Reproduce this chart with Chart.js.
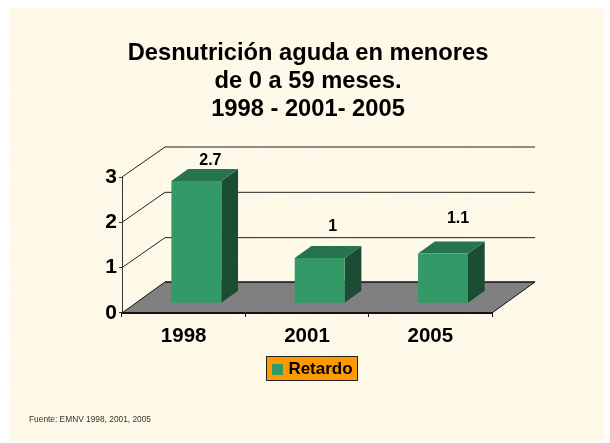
<!DOCTYPE html>
<html>
<head>
<meta charset="utf-8">
<script src="https://cdn.jsdelivr.net/npm/chart.js@4"></script>
<style>
html,body{margin:0;padding:0;background:#fff;overflow:hidden}
#wrap{position:relative;width:610px;height:443px}
#paper{position:absolute;left:10px;top:8px;width:594px;height:433px;background:#FFF9E8;overflow:hidden}
#paper svg{position:absolute;left:0;top:0}
canvas{position:absolute;left:0;top:0}
</style>
</head>
<body>
<div id="wrap">
<div id="paper"><svg width="594" height="433"><filter id="f" x="0" y="0" width="100%" height="100%"><feTurbulence type="fractalNoise" baseFrequency="0.04" numOctaves="3" seed="7"/><feColorMatrix type="matrix" values="0 0 0 0 0.984  0 0 0 0 0.937  0 0 0 0 0.80  2.6 0 0 0 -0.75"/></filter><rect width="594" height="433" filter="url(#f)"/></svg></div>
<canvas id="c" width="610" height="443"></canvas>
</div>
<script>
const titleLines = ['Desnutrición aguda en menores', 'de 0 a 59 meses.', '1998 - 2001- 2005'];
const categories = ['1998', '2001', '2005'];
const seriesName = 'Retardo';
const retardo = [2.7, 1, 1.1];
const sourceNote = 'Fuente: EMNV 1998, 2001, 2005';
const FONT = '"Liberation Sans", Arial, sans-serif';

const wallDepth = {x: 43, y: 31, gridY: 30};
const barShift = {x: 12.7, y: 9.7};
const barDepth = {x: 16.7, y: 12};
const labelLift = [{x: 14, y: 20}, {x: 13, y: 31}, {x: 15, y: 35}];
const plate = {x: 266.5, y: 356.5, w: 91, h: 24};
const BAR_COLOR = '#339966';

const swatch = document.createElement('canvas');
swatch.width = 11; swatch.height = 11;
const swatchCtx = swatch.getContext('2d');
swatchCtx.fillStyle = BAR_COLOR;
swatchCtx.fillRect(0, 0, 11, 11);

const scene3d = {
  id: 'scene3d',
  afterLayout(chart) {
    chart.titleBlock.left = 0; chart.titleBlock.right = 616;
    chart.boxes.forEach(b => {
      if (b !== chart.titleBlock && b.options && b.options.text && b.options.position === 'bottom') {
        b.left = 29; b.right = 400;
      }
    });
    chart.legend.left = 267.75; chart.legend.right = 359.75;
    chart.legend.top = 361;
  },
  beforeDraw(chart) {
    const {ctx, scales: {x, y}} = chart;
    const L = x.left, R = x.right, B = y.getPixelForValue(0);
    const d = wallDepth;
    ctx.save();
    ctx.fillStyle = '#808080';
    ctx.beginPath();
    ctx.moveTo(L, B); ctx.lineTo(R, B); ctx.lineTo(R + d.x, B - d.y); ctx.lineTo(L + d.x, B - d.y);
    ctx.closePath(); ctx.fill();
    ctx.strokeStyle = '#111'; ctx.lineWidth = 1;
    ctx.beginPath();
    ctx.moveTo(L, B); ctx.lineTo(L + d.x, B - d.y);
    ctx.moveTo(R, B); ctx.lineTo(R + d.x, B - d.y);
    ctx.stroke();
    ctx.lineWidth = 1.5;
    ctx.beginPath(); ctx.moveTo(L + d.x, B - d.y); ctx.lineTo(R + d.x, B - d.y); ctx.stroke();
    ctx.lineWidth = 1; ctx.strokeStyle = '#222';
    y.ticks.forEach(t => {
      if (t.value === 0) return;
      const py = y.getPixelForValue(t.value);
      ctx.beginPath();
      ctx.moveTo(L, py); ctx.lineTo(L + d.x, py - d.gridY); ctx.lineTo(R + d.x, py - d.gridY);
      ctx.stroke();
    });
    ctx.fillStyle = '#FF9900'; ctx.strokeStyle = '#222'; ctx.lineWidth = 1;
    ctx.fillRect(plate.x, plate.y, plate.w, plate.h);
    ctx.strokeRect(plate.x, plate.y, plate.w, plate.h);
    ctx.restore();
  },
  beforeDatasetDraw(chart, args) {
    const {ctx} = chart;
    ctx.save();
    ctx.translate(barShift.x, -barShift.y);
    const e = barDepth;
    args.meta.data.forEach(el => {
      const l = el.x - el.width / 2, r = el.x + el.width / 2, t = el.y, b = el.base;
      ctx.fillStyle = '#1A4D33';
      ctx.beginPath();
      ctx.moveTo(r, t); ctx.lineTo(r + e.x, t - e.y); ctx.lineTo(r + e.x, b - e.y); ctx.lineTo(r, b);
      ctx.closePath(); ctx.fill();
      ctx.fillStyle = '#267350';
      ctx.beginPath();
      ctx.moveTo(l, t); ctx.lineTo(l + e.x, t - e.y); ctx.lineTo(r + e.x, t - e.y); ctx.lineTo(r, t);
      ctx.closePath(); ctx.fill();
    });
  },
  afterDatasetDraw(chart, args) {
    const {ctx} = chart;
    ctx.restore();
    ctx.save();
    ctx.font = 'bold 16px ' + FONT;
    ctx.fillStyle = '#000';
    ctx.textAlign = 'center'; ctx.textBaseline = 'middle';
    args.meta.data.forEach((el, i) => {
      ctx.fillText(String(retardo[i]), el.x + barShift.x + labelLift[i].x, el.y - barShift.y - labelLift[i].y);
    });
    ctx.restore();
  }
};

new Chart(document.getElementById('c'), {
  type: 'bar',
  data: {
    labels: categories,
    datasets: [{
      label: seriesName,
      data: retardo,
      backgroundColor: BAR_COLOR,
      borderWidth: 0,
      categoryPercentage: 1,
      barPercentage: 0.405,
      clip: false
    }]
  },
  plugins: [scene3d],
  options: {
    responsive: false,
    animation: false,
    layout: {padding: {left: 0, right: 118, top: 0, bottom: 0}},
    scales: {
      x: {
        grid: {display: true, drawOnChartArea: false, drawTicks: true, tickLength: 4, color: '#111', offset: true},
        border: {display: true, color: '#111', width: 2},
        ticks: {color: '#000', font: {family: FONT, size: 20.5, weight: 'bold'}, padding: 7, maxRotation: 0},
        afterFit(s) { s.height = 43; }
      },
      y: {
        min: 0, max: 3,
        grid: {display: true, drawOnChartArea: false, drawTicks: true, tickLength: 3, color: '#333'},
        border: {display: true, color: '#333', width: 1},
        ticks: {stepSize: 1, color: '#000', font: {family: FONT, size: 21, weight: 'bold'}, padding: 2},
        afterFit(s) { s.width = 122; }
      }
    },
    plugins: {
      tooltip: {enabled: false},
      title: {
        display: true,
        text: titleLines,
        color: '#000',
        font: {family: FONT, size: 23.7, weight: 'bold', lineHeight: 28 / 23.7},
        padding: {top: 39, bottom: 54}
      },
      subtitle: {
        display: true,
        position: 'bottom',
        align: 'start',
        text: sourceNote,
        color: '#333',
        font: {family: FONT, size: 8.35, weight: 'normal', lineHeight: 1.2},
        padding: {top: 31.8, bottom: 18.2}
      },
      legend: {
        display: true,
        position: 'bottom',
        labels: {
          usePointStyle: true, pointStyle: swatch, pointStyleWidth: 5,
          boxHeight: 11,
          color: '#000',
          padding: 0,
          font: {family: FONT, size: 17, weight: 'bold'}
        }
      }
    }
  }
});
</script>
</body>
</html>
